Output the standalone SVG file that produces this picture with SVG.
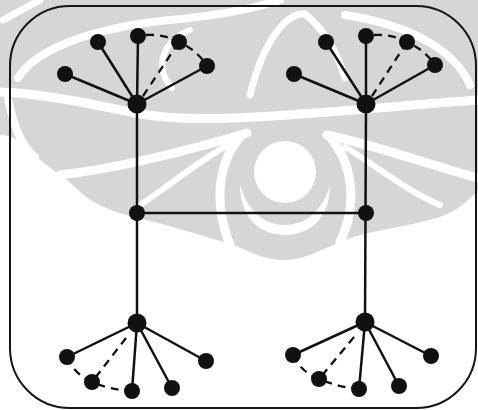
<svg xmlns="http://www.w3.org/2000/svg" width="478" height="410" viewBox="0 0 478 410">
  <style>
    .wm { fill: #d6d6d6; }
    .cut { fill: none; stroke: #ffffff; stroke-linecap: round; }
    .frame { fill: none; stroke: #151515; stroke-width: 2; }
    .edge { fill: none; stroke: #111111; stroke-width: 2.5; }
    .dash { fill: none; stroke: #111111; stroke-width: 2.3; stroke-dasharray: 8 6; }
    .hub { fill: #111111; }
    .leaf { fill: #111111; }
  </style>
  <rect width="478" height="410" fill="#ffffff"/>

  <!-- faint emblem behind the graph -->
  <g id="emblem">
    <path class="wm" d="M0,0 H478 V190 C470,200 455,212 440,217 C410,226 375,230 350,238 C325,248 305,260 283,260 C262,260 248,250 230,244 C200,235 165,224 130,216 C105,210 88,200 78,190 C62,174 45,166 35,155 C25,145 15,135 0,135 Z"/>
    <!-- horizontal wave under the upper hubs -->
    <path class="cut" stroke-width="9" d="M0,92 C50,94 100,106 140,114 C190,122 250,118 300,114 C360,110 420,104 478,100"/>
    <!-- upper sweeps -->
    <path class="cut" stroke-width="8" d="M18,78 C35,50 90,28 170,20 C215,16 250,10 280,0"/>
    <path class="cut" stroke-width="7" d="M3,20 L40,0"/>
    <path class="cut" stroke-width="6" d="M190,30 C165,40 152,65 172,88"/>
    <path class="cut" stroke-width="7" d="M250,95 C262,45 285,12 305,14 C325,30 338,55 345,78"/>
    <path class="cut" stroke-width="8" d="M470,85 C455,50 410,25 345,15"/>
    <!-- left edge strip -->
    <path class="cut" stroke-width="8" d="M8,100 C14,125 20,145 35,157"/>
    <!-- lower sweeps -->
    <path class="cut" stroke-width="9" d="M60,175 C120,168 190,150 247,133"/>
    <path class="cut" stroke-width="6" d="M140,205 C170,185 200,160 228,145"/>
    <path class="cut" stroke-width="9" d="M327,135 C375,145 430,165 478,178"/>
    <path class="cut" stroke-width="6" d="M345,147 C375,165 405,190 440,205"/>
    <!-- arcs round the eye -->
    <path class="cut" stroke-width="9" d="M240,137 C220,160 212,200 230,245"/>
    <path class="cut" stroke-width="9" d="M330,137 C350,160 360,200 340,242"/>
    <circle cx="285" cy="172" r="31" fill="#ffffff"/>
    <path fill="#ffffff" d="M240,185 C240,220 262,235 285,235 C308,235 330,220 330,185 C322,212 305,225 285,225 C265,225 248,212 240,185 Z"/>
  </g>

  <rect class="frame" x="10" y="6" width="466" height="402" rx="60" ry="60"/>

  <g id="connectors">
    <!-- trunks and bridge -->
    <line class="edge" x1="137" y1="104" x2="137" y2="323"/>
    <line class="edge" x1="366" y1="104" x2="365" y2="322"/>
    <line class="edge" x1="137" y1="213" x2="366" y2="213"/>
    <!-- top-left fan -->
    <line class="edge" x1="137" y1="104" x2="65" y2="74"/>
    <line class="edge" x1="137" y1="104" x2="98" y2="42"/>
    <line class="edge" x1="137" y1="104" x2="138" y2="36"/>
    <line class="edge" x1="137" y1="104" x2="207" y2="66"/>
    <line class="dash" x1="143" y1="96" x2="179" y2="42"/>
    <path class="dash" d="M146,35 Q165,34 179,42 Q197,50 207,66"/>
    <!-- top-right fan -->
    <line class="edge" x1="366" y1="104" x2="294" y2="74"/>
    <line class="edge" x1="366" y1="104" x2="326" y2="42"/>
    <line class="edge" x1="366" y1="104" x2="366" y2="36"/>
    <line class="edge" x1="366" y1="104" x2="435" y2="65"/>
    <line class="dash" x1="372" y1="96" x2="407" y2="42"/>
    <path class="dash" d="M374,35 Q393,34 407,42 Q425,50 435,65"/>
    <!-- bottom-left fan -->
    <line class="edge" x1="137" y1="323" x2="67" y2="357"/>
    <line class="edge" x1="137" y1="323" x2="132" y2="391"/>
    <line class="edge" x1="137" y1="323" x2="172" y2="388"/>
    <line class="edge" x1="137" y1="323" x2="206" y2="361"/>
    <line class="dash" x1="126" y1="338" x2="92" y2="382"/>
    <path class="dash" d="M67,357 Q75,375 92,382 Q110,390 132,391"/>
    <!-- bottom-right fan -->
    <line class="edge" x1="365" y1="322" x2="293" y2="355"/>
    <line class="edge" x1="365" y1="322" x2="359" y2="389"/>
    <line class="edge" x1="365" y1="322" x2="399" y2="386"/>
    <line class="edge" x1="365" y1="322" x2="431" y2="356"/>
    <line class="dash" x1="354" y1="337" x2="319" y2="379"/>
    <path class="dash" d="M293,355 Q302,373 319,379 Q338,387 359,389"/>
  </g>

  <g id="hub-top-left"><circle class="hub" cx="137" cy="104" r="9.5"/></g>
  <g id="leaf-tl-1"><circle class="leaf" cx="65" cy="74" r="8"/></g>
  <g id="leaf-tl-2"><circle class="leaf" cx="98" cy="42" r="8"/></g>
  <g id="leaf-tl-3"><circle class="leaf" cx="138" cy="36" r="8"/></g>
  <g id="leaf-tl-4"><circle class="leaf" cx="179" cy="42" r="8"/></g>
  <g id="leaf-tl-5"><circle class="leaf" cx="207" cy="66" r="8"/></g>

  <g id="hub-top-right"><circle class="hub" cx="366" cy="104" r="9.5"/></g>
  <g id="leaf-tr-1"><circle class="leaf" cx="294" cy="74" r="8"/></g>
  <g id="leaf-tr-2"><circle class="leaf" cx="326" cy="42" r="8"/></g>
  <g id="leaf-tr-3"><circle class="leaf" cx="366" cy="36" r="8"/></g>
  <g id="leaf-tr-4"><circle class="leaf" cx="407" cy="42" r="8"/></g>
  <g id="leaf-tr-5"><circle class="leaf" cx="435" cy="65" r="8"/></g>

  <g id="mid-left"><circle class="leaf" cx="137" cy="213" r="8"/></g>
  <g id="mid-right"><circle class="leaf" cx="366" cy="213" r="8"/></g>

  <g id="hub-bottom-left"><circle class="hub" cx="137" cy="323" r="9.5"/></g>
  <g id="leaf-bl-1"><circle class="leaf" cx="67" cy="357" r="8"/></g>
  <g id="leaf-bl-2"><circle class="leaf" cx="92" cy="382" r="8"/></g>
  <g id="leaf-bl-3"><circle class="leaf" cx="132" cy="391" r="8"/></g>
  <g id="leaf-bl-4"><circle class="leaf" cx="172" cy="388" r="8"/></g>
  <g id="leaf-bl-5"><circle class="leaf" cx="206" cy="361" r="8"/></g>

  <g id="hub-bottom-right"><circle class="hub" cx="365" cy="322" r="9.5"/></g>
  <g id="leaf-br-1"><circle class="leaf" cx="293" cy="355" r="8"/></g>
  <g id="leaf-br-2"><circle class="leaf" cx="319" cy="379" r="8"/></g>
  <g id="leaf-br-3"><circle class="leaf" cx="359" cy="389" r="8"/></g>
  <g id="leaf-br-4"><circle class="leaf" cx="399" cy="386" r="8"/></g>
  <g id="leaf-br-5"><circle class="leaf" cx="431" cy="356" r="8"/></g>
</svg>
